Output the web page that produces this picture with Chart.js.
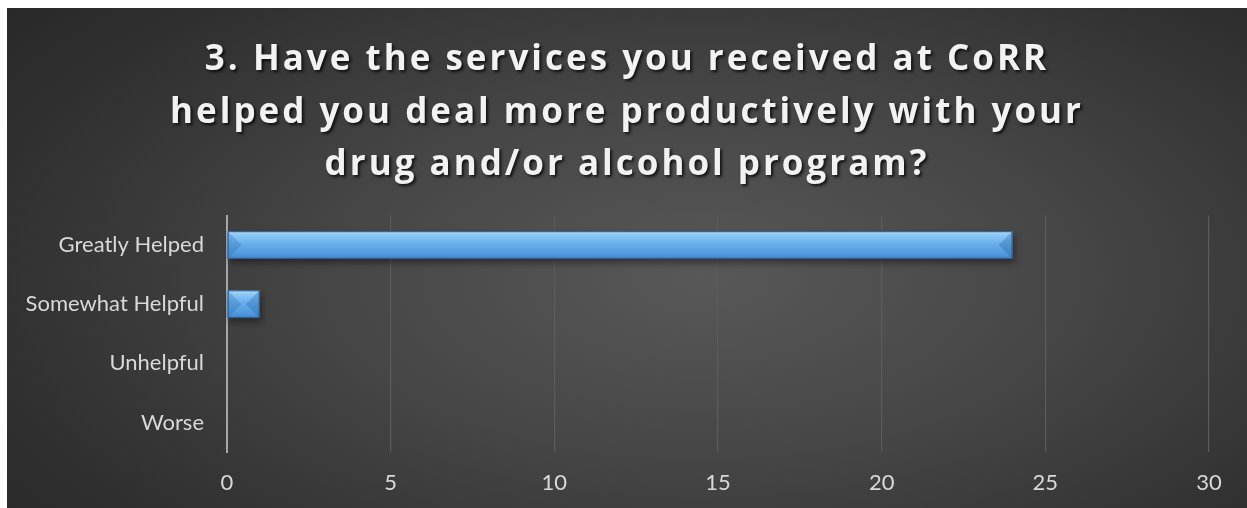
<!DOCTYPE html>
<html>
<head>
<meta charset="utf-8">
<script src="https://cdn.jsdelivr.net/npm/chart.js@4.4.1/dist/chart.umd.min.js"></script>
<style>
  html, body { margin: 0; padding: 0; background: #ffffff; }
  #panel {
    position: absolute; left: 7px; top: 8px; width: 1240px; height: 500px;
    background: radial-gradient(ellipse 75% 90% at 56% 54%, #585858 0%, #464646 40%, #303030 78%, #272727 100%);
  }
</style>
</head>
<body>
<div id="panel"><canvas id="chart"></canvas></div>
<script>
// --- DATOS ---
const categories = ['Greatly Helped', 'Somewhat Helpful', 'Unhelpful', 'Worse'];
const responses = [24, 1, 0, 0];
const xTicks = [0, 5, 10, 15, 20, 25, 30];
const titleLines = [
    '3. Have the services you received at CoRR',
    'helped you deal more productively with your',
    'drug and/or alcohol program?'
];

const BAR_PCT = 0.47;

// Degradado vertical de cada barra, calculado desde la escala
function barGradient(context) {
    const chart = context.chart;
    const yScale = chart.scales.y;
    if (!yScale || !chart.chartArea) return '#5aa4e6';
    const center = yScale.getPixelForValue(context.dataIndex);
    const half = (yScale.height / categories.length) * BAR_PCT / 2;
    const g = chart.ctx.createLinearGradient(0, center - half, 0, center + half);
    g.addColorStop(0, '#c4e6fc');
    g.addColorStop(0.12, '#8fcaf6');
    g.addColorStop(0.45, '#68afec');
    g.addColorStop(0.85, '#4f97dc');
    g.addColorStop(1, '#3f82c8');
    return g;
}

// Sombra y extremos biselados de las barras
const bevelBars = {
    id: 'bevelBars',
    beforeDatasetsDraw(chart) {
        const ctx = chart.ctx;
        chart.getDatasetMeta(0).data.forEach(bar => {
            const w = bar.x - bar.base;
            if (w < 2) return;
            const top = bar.y - bar.height / 2;
            ctx.save();
            ctx.fillStyle = 'rgba(0,0,0,0.4)';
            ctx.filter = 'blur(3px)';
            ctx.fillRect(bar.base + 2, top + 4, w, bar.height);
            ctx.restore();
        });
    },
    afterDatasetsDraw(chart) {
        const ctx = chart.ctx;
        chart.getDatasetMeta(0).data.forEach(bar => {
            const w = bar.x - bar.base;
            if (w < 2) return;
            const top = bar.y - bar.height / 2;
            const bottom = bar.y + bar.height / 2;
            const h = bottom - top;
            const b = Math.min(h / 2, w / 2, 14);
            ctx.save();
            ctx.fillStyle = 'rgba(40,100,170,0.28)';
            ctx.beginPath();
            ctx.moveTo(bar.base, top); ctx.lineTo(bar.base + b, top + b);
            ctx.lineTo(bar.base + b, bottom - b); ctx.lineTo(bar.base, bottom); ctx.closePath();
            ctx.fill();
            ctx.fillStyle = 'rgba(30,90,160,0.3)';
            ctx.beginPath();
            ctx.moveTo(bar.x, top); ctx.lineTo(bar.x - b, top + b);
            ctx.lineTo(bar.x - b, bottom - b); ctx.lineTo(bar.x, bottom); ctx.closePath();
            ctx.fill();
            ctx.strokeStyle = '#2f5f90';
            ctx.lineWidth = 1.2;
            ctx.strokeRect(bar.base + 0.5, top + 0.5, w - 1, h - 1);
            ctx.restore();
        });
    }
};

// Espaciado de letras, sombra y centrado sobre todo el lienzo solo para el título
const titleStyle = {
    id: 'titleStyle',
    afterInit(chart) {
        const tb = chart.titleBlock;
        if (!tb) return;
        const orig = tb.draw.bind(tb);
        tb.draw = function() {
            const ctx = this.ctx;
            ctx.save();
            ctx.translate(chart.width / 2 - (this.left + this.right) / 2, 0);
            ctx.letterSpacing = '3px';
            ctx.shadowColor = 'rgba(0,0,0,0.75)';
            ctx.shadowOffsetX = 2;
            ctx.shadowOffsetY = 2;
            ctx.shadowBlur = 3;
            orig();
            ctx.restore();
        };
    }
};

const ctx = document.getElementById('chart');
new Chart(ctx, {
    type: 'bar',
    data: {
        labels: categories,
        datasets: [{
            label: 'Responses',
            data: responses,
            backgroundColor: barGradient,
            borderWidth: 0,
            barPercentage: BAR_PCT,
            categoryPercentage: 1
        }]
    },
    options: {
        indexAxis: 'y',
        responsive: true,
        maintainAspectRatio: false,
        animation: false,
        layout: { padding: { top: 0, right: 38, bottom: 0, left: 10 } },
        scales: {
            x: {
                min: 0,
                max: 30,
                afterBuildTicks(axis) { axis.ticks = xTicks.map(v => ({ value: v })); },
                afterFit(scale) { scale.height = 56; },
                grid: { color: '#5c5c5c', lineWidth: 1.2, drawTicks: false },
                border: { display: false },
                ticks: { color: '#d9d9d9', font: { family: 'Lato', size: 22 }, padding: 18 }
            },
            y: {
                afterFit(scale) { scale.width = 210; },
                grid: { display: false, drawTicks: false },
                border: { display: true, color: '#a6a6a6', width: 2 },
                ticks: { color: '#d9d9d9', font: { family: 'Lato', size: 22 }, padding: 23 }
            }
        },
        plugins: {
            legend: { display: false },
            tooltip: { enabled: false },
            title: {
                display: true,
                text: titleLines,
                color: '#f2f2f2',
                font: { family: 'Open Sans', size: 35, weight: 'bold', lineHeight: 1.5 },
                padding: { top: 26, bottom: 24 }
            }
        }
    },
    plugins: [bevelBars, titleStyle]
});
</script>
</body>
</html>
